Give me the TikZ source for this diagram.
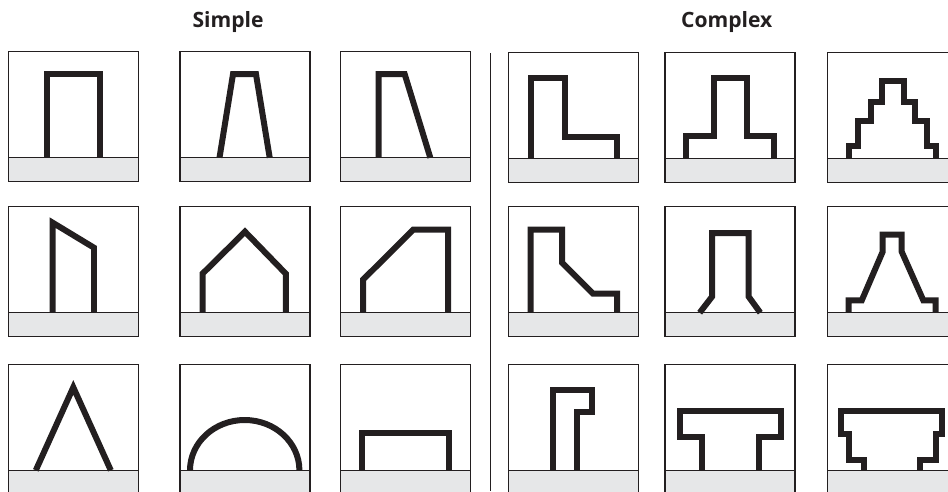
\documentclass[tikz,border=0pt]{standalone}
\usepackage{fontspec}
\setsansfont{Open Sans}
\definecolor{ink}{HTML}{231F20}
\definecolor{groundgray}{HTML}{E6E7E8}
\usepackage{tikz}
\usetikzlibrary{positioning}
\tikzset{
  pframe/.style={draw=ink, line width=0.026cm},
  pground/.style={draw=ink, fill=groundgray, line width=0.026cm},
  pwall/.style={draw=ink, line width=0.12cm, miter limit=10},
  ptitle/.style={font=\sffamily\bfseries\fontsize{12}{14}\selectfont, text=ink, inner sep=0pt},
}
% one panel: frame, ground strip and the outline drawn on it
\newcommand{\sketchpanel}[3]{%
  \begin{scope}[shift={(#1,#2)}]
    \draw[pframe] (0,0) rectangle (130,130);
    \draw[pground] (0,106) rectangle (130,130);
    \draw[pwall] #3;
  \end{scope}}

\begin{document}
\begin{tikzpicture}[x=0.02cm, y=-0.02cm]
    \clip (0,0) rectangle (948,491);

    \node[ptitle, anchor=base] (simple) at (228,27.7) {Simple};
    \node[ptitle, anchor=base] (complex) at (726.7,27.7) {Complex};

    \draw[ink, line width=0.026cm] (490.5,53) -- (490.5,491);

    % simple
    \sketchpanel{8.3}{51.7}{(39,106) -- (39,22.5) -- (91.5,22.5) -- (91.5,106)}
    \sketchpanel{180}{51.7}{(39.5,106) -- (53,22.5) -- (76,22.5) -- (89.7,106)}
    \sketchpanel{340.7}{51.7}{(38,106) -- (38,22.5) -- (64,22.5) -- (89.6,106)}

    \sketchpanel{8.3}{206.7}{(44.4,106) -- (44.4,16) -- (85.7,41) -- (85.7,106)}
    \sketchpanel{180}{206.7}{(22.5,106) -- (22.5,67) -- (65,25) -- (105.8,67) -- (105.8,106)}
    \sketchpanel{340.7}{206.7}{(22.3,106) -- (22.3,73) -- (72.5,23) -- (107.3,23) -- (107.3,106)}

    \sketchpanel{8.3}{364.3}{(27.5,106) -- (65,23) -- (102.5,106)}
    \sketchpanel{180}{364.3}{(10,106) arc[start angle=180, end angle=360, x radius=54.7, y radius=50.3]}
    \sketchpanel{340.7}{364.3}{(21.3,106) -- (21.3,68.3) -- (108.3,68.3) -- (108.3,106)}

    % complex
    \sketchpanel{508.5}{52.3}{(22,106) -- (22,26) -- (56.3,26) -- (56.3,85) -- (108.6,85) -- (108.6,106)}
    \sketchpanel{665}{52.3}{(21.3,106) -- (21.3,84) -- (48.7,84) -- (48.7,26) -- (82,26) -- (82,84) -- (108.7,84) -- (108.7,106)}
    \sketchpanel{827.3}{52.3}{(21.7,106) -- (21.7,93.4) -- (30.7,93.4) -- (30.7,69) -- (44,69) -- (44,49.7) -- (55,49.7) -- (55,28.5)
      -- (76.4,28.5) -- (76.4,49.7) -- (87.4,49.7) -- (87.4,69) -- (99.7,69) -- (99.7,93.4) -- (109,93.4) -- (109,106)}

    \sketchpanel{508.5}{206.7}{(22,106) -- (22,23) -- (53.6,23) -- (53.6,56) -- (84.6,87) -- (108.6,87) -- (108.6,106)}
    \sketchpanel{665}{206.7}{(34.7,106) -- (47,90) -- (47,26.5) -- (83.7,26.5) -- (83.7,90) -- (95.3,106)}
    \sketchpanel{827.3}{206.7}{(21.4,106) -- (21.4,93.6) -- (34.5,93.6) -- (55.4,45) -- (55.4,28) -- (74.4,28) -- (74.4,45)
      -- (96,93.6) -- (108.4,93.6) -- (108.4,106)}

    \sketchpanel{508.5}{364.3}{(44.3,106) -- (44.3,25.4) -- (83.6,25.4) -- (83.6,47.7) -- (68.6,47.7) -- (68.6,106)}
    \sketchpanel{665}{364.3}{(36.7,106) -- (36.7,73) -- (14.7,73) -- (14.7,47) -- (115.7,47) -- (115.7,73) -- (93.7,73) -- (93.7,106)}
    \sketchpanel{827.3}{364.3}{(36.7,106) -- (36.7,95.4) -- (21.4,95.4) -- (21.4,69.7) -- (14,69.7) -- (14,47) -- (115,47)
      -- (115,69.7) -- (109,69.7) -- (109,95.4) -- (92.7,95.4) -- (92.7,106)}
\end{tikzpicture}
\end{document}
